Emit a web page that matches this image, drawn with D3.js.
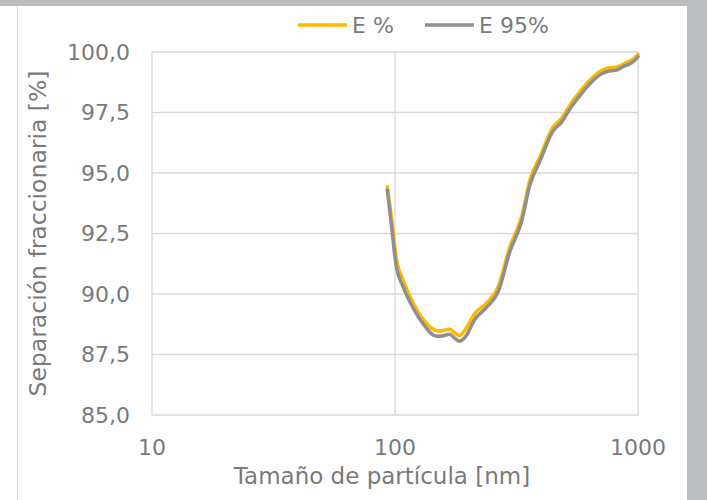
<!DOCTYPE html>
<html>
<head>
<meta charset="utf-8">
<script src="https://cdn.jsdelivr.net/npm/d3@7"></script>
<style>
  body { margin: 0; background: #fff; }
  text { font-family: "DejaVu Sans", Verdana, sans-serif; fill: #7a7a7a; }
</style>
</head>
<body>
<div id="chart"></div>
<script>
// particle size (nm)
const sizes = [93, 97, 101, 108, 119, 131, 146, 153, 168, 174, 184, 194, 213, 238, 266, 297,
  332, 359, 395, 448, 485, 525, 577, 635, 709, 767, 817, 870, 942, 1000];
// E %
const ePct = [94.43, 93.06, 91.54, 90.58, 89.62, 88.93, 88.51, 88.47, 88.54, 88.44, 88.28, 88.51,
  89.2, 89.62, 90.3, 91.95, 93.19, 94.71, 95.67, 96.91, 97.26, 97.81, 98.36, 98.84, 99.23,
  99.35, 99.37, 99.5, 99.67, 99.9];
// E 95%
const e95 = [94.3, 92.7, 91.2, 90.3, 89.4, 88.75, 88.27, 88.25, 88.34, 88.22, 88.05, 88.2,
  88.95, 89.45, 90.1, 91.75, 93.0, 94.5, 95.5, 96.75, 97.1, 97.65, 98.2, 98.7, 99.1,
  99.22, 99.25, 99.4, 99.55, 99.8];

const yTicks = [85, 87.5, 90, 92.5, 95, 97.5, 100];
const xTicks = [10, 100, 1000];

const series = [
  { name: "E %", values: ePct, color: "#ffb800" },
  { name: "E 95%", values: e95, color: "#8f8f8f" },
];

const width = 707;
const height = 500;
const margin = { top: 52, right: 69, bottom: 85, left: 152 };

const svg = d3
  .select("#chart")
  .append("svg")
  .attr("width", width)
  .attr("height", height);

svg.append("rect").attr("width", width).attr("height", height).attr("fill", "#fff");

// frame
svg.append("rect").attr("x", 0).attr("y", 0).attr("width", width).attr("height", 6).attr("fill", "#bcbdc1");
svg.append("rect").attr("x", 687).attr("y", 0).attr("width", 20).attr("height", height).attr("fill", "#bcbdc1");
svg.append("line").attr("x1", 17.5).attr("x2", 17.5).attr("y1", 6).attr("y2", height)
  .attr("stroke", "#d9d9d9").attr("stroke-width", 1);

const x = d3.scaleLog().domain([10, 1000]).range([margin.left, width - margin.right]);
const y = d3.scaleLinear().domain([85, 100]).range([height - margin.bottom, margin.top]);

// grid
svg.append("g")
  .selectAll("line")
  .data(yTicks)
  .join("line")
  .attr("x1", x(10)).attr("x2", x(1000))
  .attr("y1", (d) => y(d)).attr("y2", (d) => y(d))
  .attr("stroke", "#d9d9d9").attr("stroke-width", 1.3);

svg.append("g")
  .selectAll("line")
  .data(xTicks)
  .join("line")
  .attr("x1", (d) => x(d)).attr("x2", (d) => x(d))
  .attr("y1", y(85)).attr("y2", y(100))
  .attr("stroke", "#d9d9d9").attr("stroke-width", 1.3);

// tick labels
const fmt = (d) => d.toFixed(1).replace(".", ",");
svg.append("g")
  .selectAll("text")
  .data(yTicks)
  .join("text")
  .attr("x", margin.left - 22)
  .attr("y", (d) => y(d))
  .attr("dy", "0.36em")
  .attr("text-anchor", "end")
  .style("font-size", "22px")
  .text(fmt);

svg.append("g")
  .selectAll("text")
  .data(xTicks)
  .join("text")
  .attr("x", (d) => x(d))
  .attr("y", 455)
  .attr("text-anchor", "middle")
  .style("font-size", "22px")
  .text((d) => d);

// axis titles
svg.append("text")
  .attr("x", 382)
  .attr("y", 484)
  .attr("text-anchor", "middle")
  .style("font-size", "23px")
  .text("Tamaño de partícula [nm]");

svg.append("text")
  .attr("transform", `translate(46,${(y(85) + y(100)) / 2}) rotate(-90)`)
  .attr("text-anchor", "middle")
  .style("font-size", "23.5px")
  .text("Separación fraccionaria [%]");

// lines
const line = d3
  .line()
  .x((d) => x(d[0]))
  .y((d) => y(d[1]))
  .curve(d3.curveMonotoneX);

svg.append("g")
  .selectAll("path")
  .data(series)
  .join("path")
  .attr("d", (s) => line(sizes.map((v, i) => [v, s.values[i]])))
  .attr("fill", "none")
  .attr("stroke", (s) => s.color)
  .attr("stroke-width", 3.5)
  .attr("stroke-linejoin", "round")
  .attr("stroke-linecap", "round");

// legend
const legendX = [298, 425];
const legend = svg.append("g")
  .selectAll("g")
  .data(series)
  .join("g")
  .attr("transform", (d, i) => `translate(${legendX[i]},25)`);

legend.append("line")
  .attr("x1", 0).attr("x2", 49)
  .attr("stroke", (d) => d.color)
  .attr("stroke-width", 3.5);

legend.append("text")
  .attr("x", 54)
  .attr("dy", "0.36em")
  .style("font-size", "22px")
  .text((d) => d.name);
</script>
</body>
</html>
